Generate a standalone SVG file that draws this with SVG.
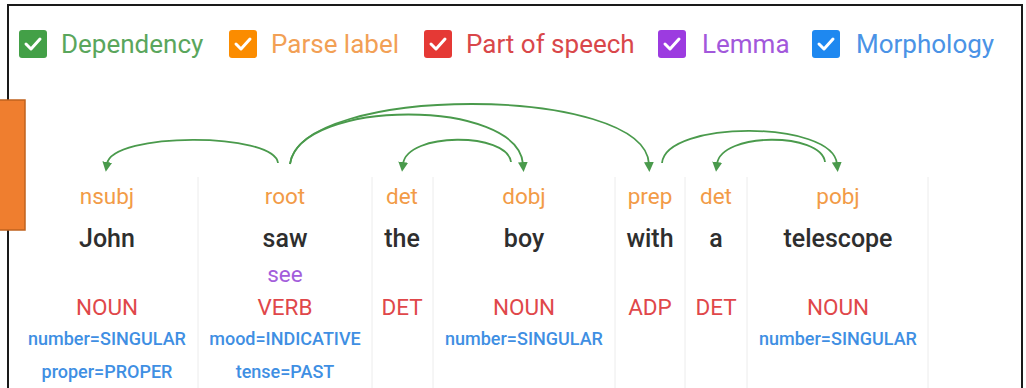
<svg xmlns="http://www.w3.org/2000/svg" width="1026" height="388" viewBox="0 0 1026 388">
<defs>
<style>
text{font-family:Roboto,"Liberation Sans",sans-serif;text-anchor:middle}
.leg{font-size:26px;text-anchor:start}
.lab{font-size:22.5px;fill:#f29b47}
.word{font-size:25px;font-weight:500;fill:#2e2e2e}
.lem{font-size:22.5px;fill:#a35ddb}
.pos{font-size:22.5px;fill:#e0474a}
.mor{font-size:18px;font-weight:500;fill:#3f8fe3}
.sep{stroke:#ececec;stroke-width:1}
.arc{fill:none;stroke:#4a9a4c;stroke-width:1.8;marker-end:url(#ah)}
.chk{fill:none;stroke:#fff;stroke-width:3;stroke-linecap:round;stroke-linejoin:round}
</style>
<marker id="ah" viewBox="0 0 10 10" refX="2" refY="5" markerWidth="5.5" markerHeight="5.5" markerUnits="strokeWidth" orient="auto">
<path d="M0,0 L10,5 L0,10 z" fill="#4a9a4c"/>
</marker>
</defs>
<rect width="1026" height="388" fill="#fff"/>
<rect x="8" y="5" width="1014" height="400" fill="none" stroke="#1a1a1a" stroke-width="2"/>
<rect id="orange-tab" x="-2" y="100" width="27" height="130" fill="#ef7e2f" stroke="#c0631f" stroke-width="1.5"/>

<g id="legend">
<g id="leg-dependency"><rect x="19" y="30" width="28" height="28" rx="3" fill="#43a047"/><path class="chk" d="M26,44 L31,49 L40,39"/><text class="leg" x="61" y="53" fill="#5aa65c">Dependency</text></g>
<g id="leg-parse"><rect x="229" y="30" width="28" height="28" rx="3" fill="#fb8c00"/><path class="chk" d="M236,44 L241,49 L250,39"/><text class="leg" x="271" y="53" fill="#f2a055">Parse label</text></g>
<g id="leg-pos"><rect x="424" y="30" width="28" height="28" rx="3" fill="#e53935"/><path class="chk" d="M431,44 L436,49 L445,39"/><text class="leg" x="466" y="53" fill="#d9474a">Part of speech</text></g>
<g id="leg-lemma"><rect x="658" y="30" width="28" height="28" rx="3" fill="#9c3be0"/><path class="chk" d="M665,44 L670,49 L679,39"/><text class="leg" x="702" y="53" fill="#a258db">Lemma</text></g>
<g id="leg-morph"><rect x="812" y="30" width="28" height="28" rx="3" fill="#1e88f0"/><path class="chk" d="M819,44 L824,49 L833,39"/><text class="leg" x="856" y="53" fill="#4a93e6">Morphology</text></g>
</g>

<g id="separators">
<line class="sep" x1="198" y1="177" x2="198" y2="388"/>
<line class="sep" x1="372" y1="177" x2="372" y2="388"/>
<line class="sep" x1="433" y1="177" x2="433" y2="388"/>
<line class="sep" x1="615" y1="177" x2="615" y2="388"/>
<line class="sep" x1="685" y1="177" x2="685" y2="388"/>
<line class="sep" x1="747" y1="177" x2="747" y2="388"/>
<line class="sep" x1="928" y1="177" x2="928" y2="388"/>
</g>

<g id="connectors">
<path class="arc" d="M278,163 C274,132 112,132 107,164"/>
<path class="arc" d="M290,164 C300,98 518,98 523,164"/>
<path class="arc" d="M290,164 C300,84 645,84 649,164"/>
<path class="arc" d="M511,162 C507,132 407,132 403,164"/>
<path class="arc" d="M662,163 C666,120 833,120 837,164"/>
<path class="arc" d="M825,162 C821,132 721,132 717,164"/>
</g>

<g id="tok-john"><text class="lab" x="107" y="204">nsubj</text><text class="word" x="107" y="247">John</text><text class="pos" x="107" y="315">NOUN</text><text class="mor" x="107" y="345">number=SINGULAR</text><text class="mor" x="107" y="378">proper=PROPER</text></g>
<g id="tok-saw"><text class="lab" x="285" y="204">root</text><text class="word" x="285" y="247">saw</text><text class="lem" x="285" y="282">see</text><text class="pos" x="285" y="315">VERB</text><text class="mor" x="285" y="345">mood=INDICATIVE</text><text class="mor" x="285" y="378">tense=PAST</text></g>
<g id="tok-the"><text class="lab" x="402" y="204">det</text><text class="word" x="402" y="247">the</text><text class="pos" x="402" y="315">DET</text></g>
<g id="tok-boy"><text class="lab" x="524" y="204">dobj</text><text class="word" x="524" y="247">boy</text><text class="pos" x="524" y="315">NOUN</text><text class="mor" x="524" y="345">number=SINGULAR</text></g>
<g id="tok-with"><text class="lab" x="650" y="204">prep</text><text class="word" x="650" y="247">with</text><text class="pos" x="650" y="315">ADP</text></g>
<g id="tok-a"><text class="lab" x="716" y="204">det</text><text class="word" x="716" y="247">a</text><text class="pos" x="716" y="315">DET</text></g>
<g id="tok-telescope"><text class="lab" x="838" y="204">pobj</text><text class="word" x="838" y="247">telescope</text><text class="pos" x="838" y="315">NOUN</text><text class="mor" x="838" y="345">number=SINGULAR</text></g>
</svg>
